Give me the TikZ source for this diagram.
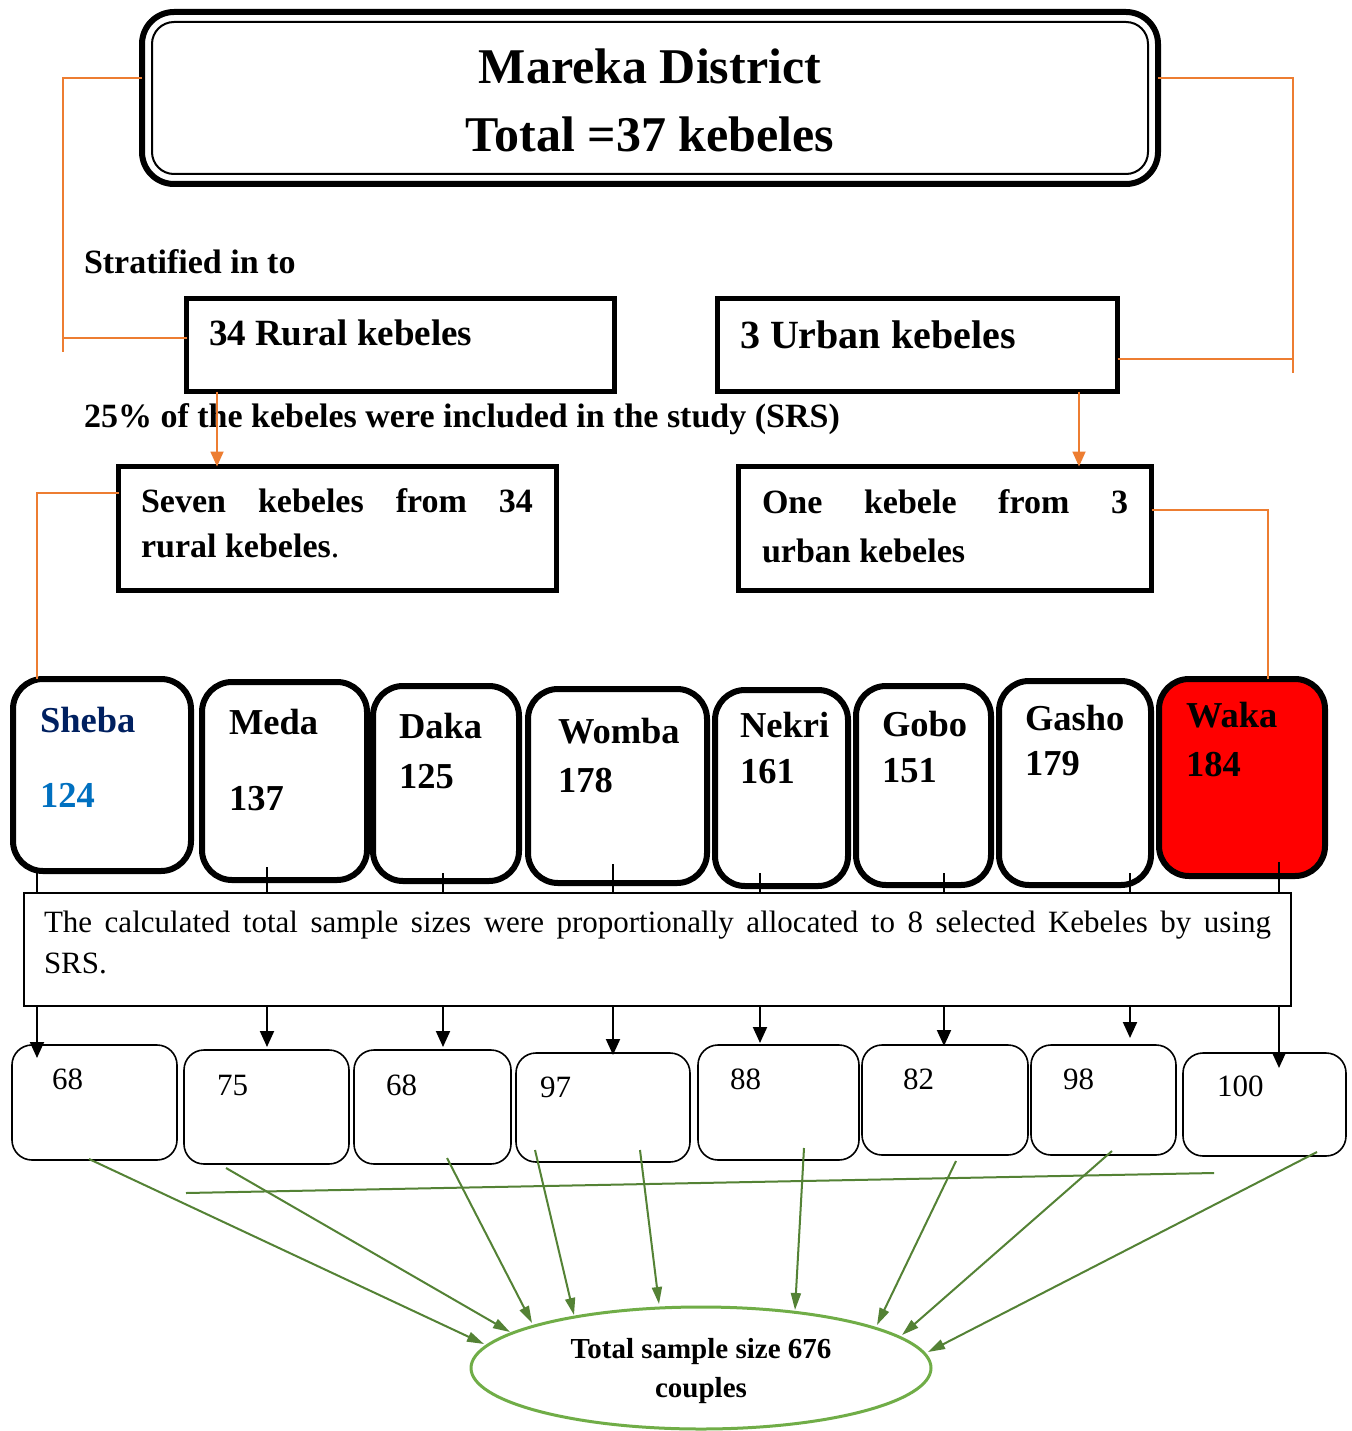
\documentclass[tikz,border=0pt]{standalone}
\usepackage{fontspec}
\setmainfont{Liberation Serif}
\usetikzlibrary{arrows.meta,calc,shapes.geometric}
\definecolor{orangeL}{HTML}{ED7D31}
\definecolor{greenA}{HTML}{548235}
\definecolor{greenE}{HTML}{70AD47}
\definecolor{shebaC}{HTML}{002060}
\definecolor{numC}{HTML}{0070C0}
\newcommand\fsz[1]{\fontsize{#1}{#1}\selectfont}
\begin{document}
\begin{tikzpicture}[x=1pt,y=-1pt,
 txt/.style={anchor=base west,inner sep=0pt,outer sep=0pt},
 ctxt/.style={anchor=base,inner sep=0pt,outer sep=0pt},
 kbox/.style={draw,line width=6pt,rounded corners=30pt,inner sep=0pt,outer sep=0pt},
 sbox/.style={draw,line width=1.6pt,rounded corners=20pt,inner sep=0pt,outer sep=0pt},
 sqbox/.style={draw,line width=5pt,inner sep=0pt,outer sep=0pt},
 oline/.style={draw=orangeL,line width=1.8pt},
 oarrow/.style={oline,-{Triangle[length=15pt,width=13pt]}},
 bline/.style={draw=black,line width=2pt},
 barrow/.style={bline,-{Triangle[length=16pt,width=14pt]}},
 garrow/.style={draw=greenA,line width=2pt,-{Triangle[length=17pt,width=10pt]}},
 kname/.style={txt,font=\fsz{36.5}\bfseries},
 snum/.style={txt,font=\fsz{31}},
 ]
\fill[white] (0,0) rectangle (1351,1431);
\useasboundingbox (0,0) rectangle (1351,1431);

% title
\node[draw,line width=6pt,rounded corners=32pt,minimum width=1016pt,minimum height=172pt,inner sep=0pt,outer sep=0pt] (title) at (650,98) {};
\draw[line width=2pt,rounded corners=22pt] ($(title.north west)+(10,10)$) rectangle ($(title.south east)+(-10,-10)$);
\node[ctxt,font=\fsz{50}\bfseries] (tl1) at (650,84) {Mareka District};
\node[ctxt,font=\fsz{50}\bfseries] (tl2) at (650,152) {Total =37 kebeles};

% strata
\node[txt,font=\fsz{34}\bfseries] (strat) at (84,273) {Stratified in to};
\node[sqbox,minimum width=428pt,minimum height=93pt] (rural) at (400.5,345) {};
\node[txt,font=\fsz{37}\bfseries] (ruralt) at (209,345) {34 Rural kebeles};
\node[sqbox,minimum width=400pt,minimum height=93pt] (urban) at (917.5,345) {};
\node[txt,font=\fsz{40}\bfseries] (urbant) at (740,348) {3 Urban kebeles};
\node[txt,font=\fsz{34}\bfseries] (pct) at (84,427) {25\% of the kebeles were included in the study (SRS)};

\node[sqbox,minimum width=438pt,minimum height=124pt] (seven) at (337.5,528.5) {};
\node[txt,font=\fsz{34}\bfseries] (sevena) at (141,512) {\makebox[392pt][s]{Seven kebeles from 34}};
\node[txt,font=\fsz{34}\bfseries] (sevenb) at (141,557) {rural kebeles\textmd{.}};
\node[sqbox,minimum width=413pt,minimum height=124pt] (one) at (945,528.5) {};
\node[txt,font=\fsz{34}\bfseries] (onea) at (762,513) {\makebox[366pt][s]{One kebele from 3}};
\node[txt,font=\fsz{34}\bfseries] (oneb) at (762,562) {urban kebeles};

% kebele boxes
\node[kbox,minimum width=178pt,minimum height=192pt] (k1) at (102,775) {};
\node[kbox,minimum width=165pt,minimum height=198pt] (k2) at (284.5,781) {};
\node[kbox,minimum width=146pt,minimum height=195pt] (k3) at (446,783.5) {};
\node[kbox,minimum width=179pt,minimum height=194pt] (k4) at (617.5,786) {};
\node[kbox,minimum width=133pt,minimum height=196pt] (k5) at (781.5,788) {};
\node[kbox,minimum width=135pt,minimum height=199pt] (k6) at (923.5,785.5) {};
\node[kbox,minimum width=152pt,minimum height=204pt] (k7) at (1075,783) {};
\node[kbox,fill=red,minimum width=166pt,minimum height=197pt] (k8) at (1242,777.5) {};

\node[kname,text=shebaC] (n1) at (40,732) {Sheba};
\node[kname,text=numC] (v1) at (40,807) {124};
\node[kname] (n2) at (229,734) {Meda};
\node[kname] (v2) at (229,810) {137};
\node[kname] (n3) at (399,738) {Daka};
\node[kname] (v3) at (399,788) {125};
\node[kname] (n4) at (558,743) {Womba};
\node[kname] (v4) at (558,792) {178};
\node[kname] (n5) at (740,737) {Nekri};
\node[kname] (v5) at (740,783) {161};
\node[kname] (n6) at (882,736) {Gobo};
\node[kname] (v6) at (882,782) {151};
\node[kname] (n7) at (1025,730) {Gasho};
\node[kname] (v7) at (1025,775) {179};
\node[kname] (n8) at (1186,727) {Waka};
\node[kname] (v8) at (1186,776) {184};

% orange connectors
\draw[oline] (title.west |- 0,78) -- (63,78) -- (63,352);
\draw[oline] (rural.west |- 0,338) -- (63,338);
\draw[oline] (title.east |- 0,78) -- (1293,78) -- (1293,373);
\draw[oline] (urban.east |- 0,359) -- (1293,359);
\draw[oarrow] (rural.south -| 217,0) -- (seven.north -| 217,0);
\draw[oarrow] (urban.south -| 1079,0) -- (one.north -| 1079,0);
\draw[oline] (seven.west |- 0,493) -- (37,493) -- (k1.north -| 37,0);
\draw[oline] (one.east |- 0,510) -- (1268,510) -- (k8.north -| 1268,0);

% allocation box
\node[draw,line width=1.5pt,fill=white,minimum width=1267pt,minimum height=113pt,inner sep=0pt,outer sep=0pt] (alloc) at (657.5,949.5) {};
\node[txt,font=\fsz{31}] (alla) at (44,932) {\makebox[1227pt][s]{The calculated total sample sizes were proportionally allocated to 8 selected Kebeles by using}};
\node[txt,font=\fsz{31}] (allb) at (44,973) {SRS.};

% sample boxes
\node[sbox,minimum width=165pt,minimum height=115pt] (s1) at (94.5,1102.5) {};
\node[sbox,minimum width=165pt,minimum height=114pt] (s2) at (266.5,1107) {};
\node[sbox,minimum width=157pt,minimum height=114pt] (s3) at (432.5,1107) {};
\node[sbox,minimum width=174pt,minimum height=109pt] (s4) at (603,1107.5) {};
\node[sbox,minimum width=161pt,minimum height=115pt] (s5) at (778.5,1102.5) {};
\node[sbox,minimum width=166pt,minimum height=110pt] (s6) at (945,1100) {};
\node[sbox,minimum width=145pt,minimum height=110pt] (s7) at (1103.5,1100) {};
\node[sbox,minimum width=163pt,minimum height=103pt] (s8) at (1264.5,1104.5) {};
\node[snum] (m1) at (52,1089) {68};
\node[snum] (m2) at (217,1095) {75};
\node[snum] (m3) at (386,1095) {68};
\node[snum] (m4) at (540,1097) {97};
\node[snum] (m5) at (730,1089) {88};
\node[snum] (m6) at (903,1089) {82};
\node[snum] (m7) at (1063,1089) {98};
\node[snum] (m8) at (1217,1096) {100};

% black connectors
\coordinate (a1) at (37,872);   \coordinate (b1) at (37,1058);
\coordinate (a2) at (267,867);  \coordinate (b2) at (267,1047);
\coordinate (a3) at (443,873);  \coordinate (b3) at (443,1047);
\coordinate (a4) at (613,864);  \coordinate (b4) at (613,1055);
\coordinate (a5) at (760,873);  \coordinate (b5) at (760,1043);
\coordinate (a6) at (944,873);  \coordinate (b6) at (944,1046);
\coordinate (a7) at (1130,873); \coordinate (b7) at (1130,1038);
\coordinate (a8) at (1279,862); \coordinate (b8) at (1279,1068);
\foreach \i in {1,...,8}{
  \draw[bline] (a\i) -- (a\i |- alloc.north);
  \draw[barrow] (a\i |- alloc.south) -- (b\i);
}

% ellipse
\node[draw=greenE,line width=3pt,ellipse,minimum width=460pt,minimum height=122pt,inner sep=0pt,outer sep=0pt] (ell) at (701,1368) {};
\node[ctxt,font=\fsz{29}\bfseries] (ella) at (701,1358) {Total sample size 676};
\node[ctxt,font=\fsz{29}\bfseries] (ellb) at (701,1397) {couples};

% green connectors
\draw[greenA,line width=2pt] (186,1193) coordinate (gl1) -- (1214,1173) coordinate (gl2);
\coordinate (g1) at (89,1159);   \coordinate (e1) at (484,1344);
\coordinate (g2) at (226,1168);  \coordinate (e2) at (510,1332);
\coordinate (g3) at (447,1158);  \coordinate (e3) at (532,1323);
\coordinate (g4) at (535,1150);  \coordinate (e4) at (574,1315);
\coordinate (g5) at (640,1150);  \coordinate (e5) at (659,1304);
\coordinate (g6) at (804,1148);  \coordinate (e6) at (795,1310);
\coordinate (g7) at (956,1161);  \coordinate (e7) at (877,1325);
\coordinate (g8) at (1112,1151); \coordinate (e8) at (902,1335);
\coordinate (g9) at (1317,1152); \coordinate (e9) at (928,1352);
\foreach \i in {1,...,9}{
  \draw[garrow] (g\i) -- (e\i);
}
\end{tikzpicture}
\end{document}
